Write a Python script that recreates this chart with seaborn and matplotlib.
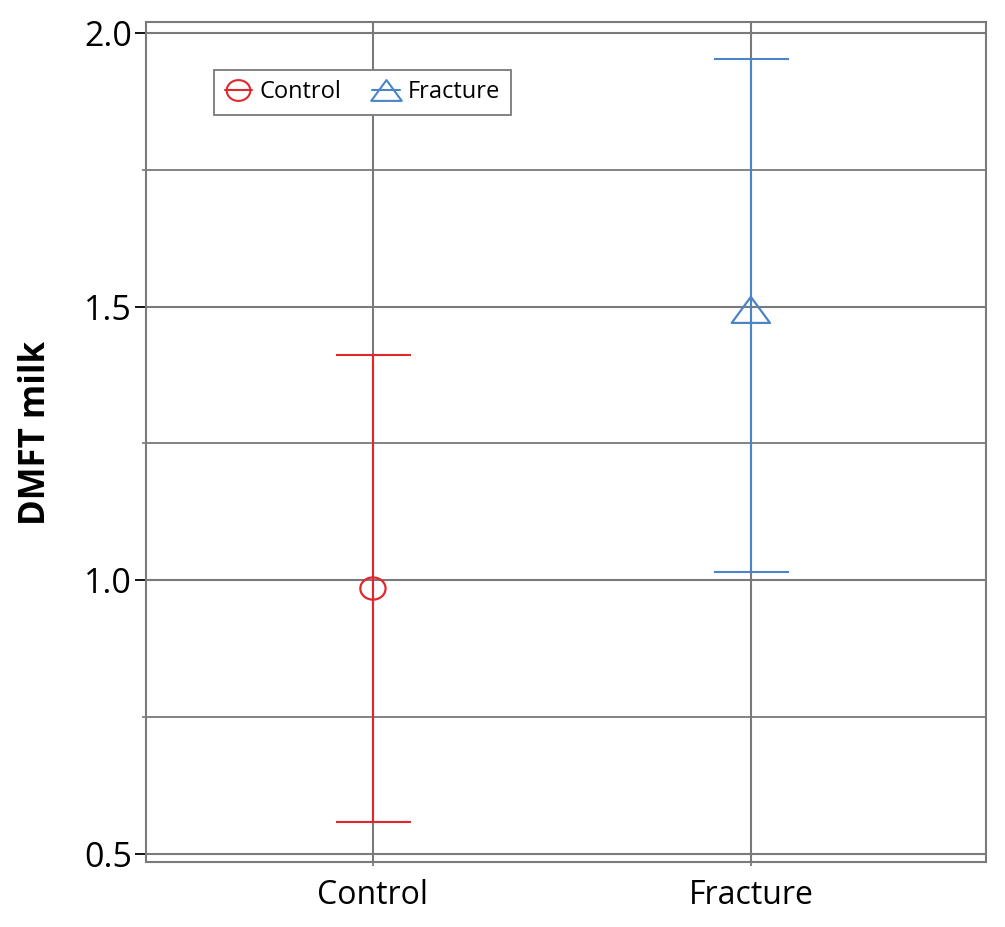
import matplotlib
matplotlib.use("Agg")
import matplotlib.pyplot as plt
import seaborn as sns
import pandas as pd
import numpy as np
from matplotlib.lines import Line2D
from matplotlib.path import Path

groups = ["Control", "Fracture"]
means = [0.985, 1.494]
lower = [0.558, 1.015]
upper = [1.411, 1.952]
colors = ["#e3262b", "#4a86c6"]
y_ticks = [0.5, 1.0, 1.5, 2.0]
y_minor = [0.75, 1.25, 1.75]

# marker shapes: slightly flattened circle and wide triangle
theta = np.linspace(0, 2 * np.pi, 60)
ellipse = Path(np.column_stack([np.cos(theta), 0.88 * np.sin(theta)]), closed=True)
tri = Path([(-1, -0.68), (1, -0.68), (0, 0.68), (-1, -0.68)], closed=True)
markers = [ellipse, tri]

sns.set_theme(style="white")
plt.rcParams["font.family"] = ["Open Sans", "DejaVu Sans"]
plt.rcParams["text.color"] = "black"
plt.rcParams["axes.labelcolor"] = "black"
plt.rcParams["xtick.color"] = "black"
plt.rcParams["ytick.color"] = "black"

df = pd.DataFrame({"group": groups, "mean": means, "lo": lower, "hi": upper})

fig = plt.figure(figsize=(10.05, 9.27), dpi=100)
ax = fig.add_axes([0.1453, 0.0701, 0.981 - 0.1453, 0.9763 - 0.0701])

grid_c = "#7a7a7a"
for v in y_ticks:
    ax.axhline(v, color=grid_c, lw=1.5, zorder=0)
for v in y_minor:
    ax.axhline(v, color=grid_c, lw=1.3, zorder=0)
for i in range(len(groups)):
    ax.axvline(i, color=grid_c, lw=1.5, zorder=0)

for i, row in df.iterrows():
    ax.errorbar(i, row["mean"], yerr=[[row["mean"] - row["lo"]], [row["hi"] - row["mean"]]],
                fmt="none", ecolor=colors[i], elinewidth=1.5, capsize=27, capthick=1.5, zorder=2)

n_before = len(ax.collections)
sns.scatterplot(data=df, x="group", y="mean", hue="group", style="group",
                palette=colors, markers=markers, s=[330, 760],
                linewidth=1.6, ax=ax, legend=False, zorder=3)
for coll in ax.collections[n_before:]:
    coll.set_edgecolors(colors)
    coll.set_facecolors("none")
    coll.set_linewidth(1.6)

ax.set_xlim(-0.6005, 1.622)
ax.set_ylim(0.4854, 2.020)
ax.set_yticks(y_ticks)
ax.set_yticklabels([f"{v:.1f}" for v in y_ticks], fontsize=24.5)
ax.set_yticks(y_minor, minor=True)
ax.set_xticks(range(len(groups)))
ax.set_xticklabels(groups, fontsize=23)
ax.tick_params(axis="y", which="major", length=8, width=1.3, color="black", left=True, pad=2)
ax.tick_params(axis="y", which="minor", length=3, width=1.2, color=grid_c, left=True)
ax.tick_params(axis="x", which="major", length=3, width=1.3, color=grid_c, bottom=True, pad=9)
ax.set_xlabel("")
ax.set_ylabel("DMFT milk", fontsize=25, fontweight="bold")
ax.yaxis.set_label_coords(-0.11, 0.511)

for sp in ax.spines.values():
    sp.set_color(grid_c)
    sp.set_linewidth(1.5)

handles = [
    Line2D([0], [0], color=colors[0], marker=ellipse, markersize=17, markerfacecolor="none",
           markeredgecolor=colors[0], lw=1.5, markeredgewidth=1.5),
    Line2D([0], [0], color=colors[1], marker=tri, markersize=22, markerfacecolor="none",
           markeredgecolor=colors[1], lw=1.5, markeredgewidth=1.5),
]
leg = ax.legend(handles, groups, ncol=2, loc="upper left", bbox_to_anchor=(0.081, 0.943),
                fontsize=17, frameon=True, fancybox=False, handlelength=1.15,
                handletextpad=0.34, columnspacing=1.3, borderpad=0.45, borderaxespad=0)
leg.get_frame().set_edgecolor(grid_c)
leg.get_frame().set_linewidth(1.3)
leg.get_frame().set_alpha(1)

fig.savefig("out.png", dpi=100)
